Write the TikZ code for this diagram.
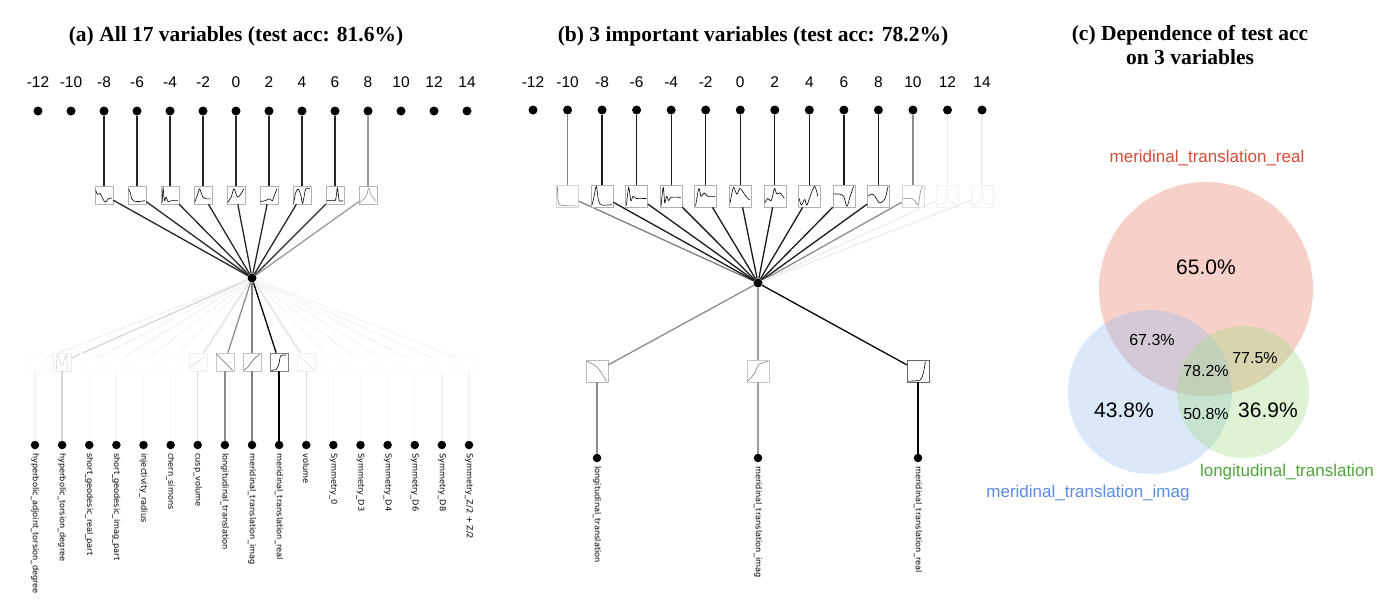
\documentclass[tikz,border=0pt]{standalone}
\usepackage{fontspec}
\setmainfont{Liberation Serif}
\newfontfamily\numfont{Liberation Sans}
\newfontfamily\varfont{DejaVu Sans}
\definecolor{vennred}{RGB}{232,120,100}
\definecolor{vennblue}{RGB}{150,188,242}
\definecolor{venngreen}{RGB}{160,220,130}
\definecolor{redtext}{RGB}{215,75,55}
\definecolor{bluetext}{RGB}{90,140,225}
\definecolor{greentext}{RGB}{80,165,60}
\usepackage{tikz}
\usetikzlibrary{positioning}
% little activation curve inside a box: node, box size, colour, points in the unit square
\newcommand{\spark}[4]{\draw[#3,line width=0.6pt,x=#2pt,y=#2pt,shift={(#1.south west)}]
  plot[smooth,tension=0.5] coordinates {#4};}

\begin{document}
\begin{tikzpicture}[x=1pt,y=-1pt,
  paneltitle/.style={font=\bfseries\fontsize{21.5}{24}\selectfont,align=center},
  numlabel/.style={font=\numfont\fontsize{15.5}{18}\selectfont},
  varlabel/.style={font=\varfont\fontsize{8.2}{10}\selectfont,rotate=-90,anchor=west,inner sep=0pt},
  dot/.style={circle,fill=black,inner sep=0pt,minimum size=9pt},
  smalldot/.style={circle,fill=black,inner sep=0pt,minimum size=8.5pt},
  hub/.style={circle,fill=black,inner sep=0pt,minimum size=9pt},
  sparkbox/.style={draw=black!30,fill=white,line width=0.5pt,inner sep=0pt,minimum size=#1},
  conn/.style={line width=1.3pt},
  vennset/.style={circle,inner sep=0pt,fill opacity=0.35,minimum size=#1},
  venntext/.style={font=\numfont\fontsize{17}{20}\selectfont},
  bigpct/.style={font=\numfont\fontsize{21}{24}\selectfont},
  smallpct/.style={font=\numfont\fontsize{16}{19}\selectfont}]
  \useasboundingbox (0,0) rectangle (1399,613);

  % (a) all 17 variables
  \node[paneltitle] (a-title) at (236,36) {(a) All 17 variables (test acc: 81.6\%)};
  \foreach \v [count=\i from 0] in {-12,-10,...,14} {
    \node[numlabel] (a-n\i) at (38+33*\i,82) {\v};
    \node[dot] (a-t\i) at (38+33*\i,111) {};
  }
  \node[hub] (a-hub) at (252,278) {};
  \foreach \i/\s in {2/85,3/85,4/85,5/85,6/85,7/85,8/85,9/85,10/40} {
    \node[sparkbox=18pt] (a-m\i) at (38+33*\i,195) {};
    \draw[black!\s,conn] (a-t\i) -- (a-m\i);
    \draw[black!\s,conn] (a-m\i) -- (a-hub);
  }
  \spark{a-m2}{18}{black}{(0.05,0.8) (0.15,0.55) (0.3,0.6) (0.45,0.3) (0.6,0.12) (0.75,0.3) (0.95,0.35)}
  \spark{a-m3}{18}{black}{(0.05,0.85) (0.15,0.6) (0.22,0.3) (0.35,0.18) (0.6,0.15) (0.95,0.2)}
  \spark{a-m4}{18}{black}{(0.08,0.1) (0.13,0.9) (0.2,0.2) (0.3,0.4) (0.4,0.15) (0.6,0.2) (0.95,0.2)}
  \spark{a-m5}{18}{black}{(0.05,0.1) (0.2,0.5) (0.33,0.85) (0.5,0.4) (0.7,0.3) (0.95,0.3)}
  \spark{a-m6}{18}{black}{(0.05,0.1) (0.25,0.4) (0.4,0.85) (0.6,0.4) (0.8,0.6) (0.95,0.85)}
  \spark{a-m7}{18}{black}{(0.05,0.15) (0.3,0.2) (0.55,0.3) (0.7,0.2) (0.85,0.6) (0.95,0.85)}
  \spark{a-m8}{18}{black}{(0.05,0.05) (0.15,0.6) (0.3,0.85) (0.45,0.5) (0.55,0.05) (0.7,0.8) (0.8,0.9) (0.95,0.85)}
  \spark{a-m9}{18}{black}{(0.05,0.2) (0.4,0.2) (0.55,0.25) (0.65,0.9) (0.75,0.2) (0.95,0.2)}
  \spark{a-m10}{18}{black!40}{(0.05,0.1) (0.3,0.3) (0.45,0.5) (0.55,0.9) (0.7,0.5) (0.95,0.2)}
  % (a) inputs
  \foreach \name/\s [count=\j from 0] in {hyperbolic\_adjoint\_torsion\_degree/5,
      hyperbolic\_torsion\_degree/16, short\_geodesic\_real\_part/4,
      short\_geodesic\_imag\_part/5, injectivity\_radius/4, chern\_simons/4,
      cusp\_volume/12, longitudinal\_translation/45, meridinal\_translation\_imag/50,
      meridinal\_translation\_real/100, volume/12, Symmetry\_0/4, Symmetry\_D3/4,
      Symmetry\_D4/4, Symmetry\_D6/4, Symmetry\_D8/4, {Symmetry\_Z/2 + Z/2}/4} {
    \pgfmathtruncatemacro\bs{max(2,0.5*\s)}
    \node[sparkbox=18pt,draw=black!\bs] (a-v\j) at (35+27.125*\j,362) {};
    \node[smalldot] (a-b\j) at (35+27.125*\j,445) {};
    \node[varlabel] (a-l\j) at (35+27.125*\j,453) {\name};
    \draw[black!\s,conn] (a-hub) -- (a-v\j);
    \draw[black!\s,conn] (a-v\j) -- (a-b\j);
  }
  \spark{a-v1}{18}{black!16}{(0.2,0.1) (0.25,0.9) (0.5,0.3) (0.75,0.9) (0.8,0.1)}
  \spark{a-v6}{18}{black!12}{(0.1,0.2) (0.5,0.5) (0.9,0.8)}
  \spark{a-v7}{18}{black!50}{(0.05,0.95) (0.5,0.5) (0.95,0.05)}
  \spark{a-v8}{18}{black!60}{(0.05,0.05) (0.3,0.25) (0.6,0.65) (0.95,0.95)}
  \spark{a-v9}{18}{black}{(0.05,0.05) (0.35,0.1) (0.5,0.4) (0.6,0.85) (0.9,0.9)}
  \spark{a-v10}{18}{black!12}{(0.1,0.9) (0.5,0.5) (0.9,0.1)}

  % (b) 3 important variables
  \node[paneltitle] (b-title) at (753,36) {(b) 3 important variables (test acc: 78.2\%)};
  \foreach \v [count=\i from 0] in {-12,-10,...,14} {
    \node[numlabel] (b-n\i) at (533+34.54*\i,82) {\v};
    \node[dot] (b-t\i) at (533+34.54*\i,110) {};
  }
  \node[hub] (b-hub) at (758,283) {};
  \foreach \i/\s in {1/50,2/90,3/90,4/90,5/90,6/90,7/90,8/90,9/90,10/90,11/45,12/7,13/7} {
    \pgfmathtruncatemacro\bs{max(5,0.35*\s)}
    \node[sparkbox=22pt,draw=black!\bs] (b-m\i) at (533+34.54*\i,196) {};
    \draw[black!\s,conn] (b-t\i) -- (b-m\i);
    \draw[black!\s,conn] (b-m\i) -- (b-hub);
  }
  \spark{b-m1}{22}{black!50}{(0.05,0.95) (0.1,0.2) (0.3,0.08) (0.95,0.06)}
  \spark{b-m2}{22}{black}{(0.05,0.1) (0.15,0.5) (0.25,0.95) (0.35,0.3) (0.5,0.1) (0.95,0.12)}
  \spark{b-m3}{22}{black}{(0.05,0.1) (0.15,0.9) (0.25,0.3) (0.35,0.5) (0.5,0.4) (0.95,0.4)}
  \spark{b-m4}{22}{black}{(0.05,0.05) (0.15,0.9) (0.22,0.2) (0.3,0.5) (0.4,0.3) (0.5,0.45) (0.95,0.45)}
  \spark{b-m5}{22}{black}{(0.05,0.05) (0.2,0.85) (0.3,0.5) (0.45,0.65) (0.6,0.5) (0.95,0.5)}
  \spark{b-m6}{22}{black}{(0.05,0.2) (0.2,0.9) (0.35,0.6) (0.5,0.85) (0.7,0.6) (0.85,0.4) (0.95,0.35)}
  \spark{b-m7}{22}{black}{(0.05,0.2) (0.2,0.4) (0.35,0.3) (0.5,0.85) (0.6,0.6) (0.75,0.65) (0.95,0.4)}
  \spark{b-m8}{22}{black}{(0.05,0.4) (0.15,0.1) (0.3,0.35) (0.4,0.1) (0.55,0.5) (0.75,0.95) (0.9,0.5)}
  \spark{b-m9}{22}{black}{(0.05,0.6) (0.3,0.6) (0.5,0.5) (0.65,0.05) (0.8,0.5) (0.95,0.95)}
  \spark{b-m10}{22}{black}{(0.05,0.5) (0.2,0.6) (0.35,0.5) (0.55,0.2) (0.75,0.3) (0.85,0.5) (0.95,0.95)}
  \spark{b-m11}{22}{black!45}{(0.05,0.4) (0.4,0.4) (0.6,0.3) (0.75,0.1) (0.85,0.7) (0.95,0.95)}
  \spark{b-m12}{22}{black!7}{(0.05,0.1) (0.4,0.3) (0.5,0.9) (0.6,0.3) (0.95,0.1)}
  \spark{b-m13}{22}{black!7}{(0.05,0.1) (0.4,0.3) (0.5,0.9) (0.6,0.3) (0.95,0.1)}
  % (b) inputs
  \foreach \name/\x/\s [count=\j] in {longitudinal\_translation/597/45,
      meridinal\_translation\_imag/758/38, meridinal\_translation\_real/918/100} {
    \pgfmathtruncatemacro\bs{max(20,0.6*\s)}
    \node[sparkbox=22pt,draw=black!\bs] (b-v\j) at (\x,371) {};
    \node[smalldot] (b-b\j) at (\x,458) {};
    \node[varlabel] (b-l\j) at (\x,466) {\name};
    \draw[black!\s,conn] (b-hub) -- (b-v\j);
    \draw[black!\s,conn] (b-v\j) -- (b-b\j);
  }
  \spark{b-v1}{22}{black!50}{(0.05,0.95) (0.5,0.7) (0.95,0.05)}
  \spark{b-v2}{22}{black!50}{(0.05,0.05) (0.35,0.4) (0.55,0.8) (0.95,0.95)}
  \spark{b-v3}{22}{black}{(0.05,0.05) (0.6,0.1) (0.75,0.4) (0.85,0.95)}

  % (c) Venn diagram
  \node[paneltitle] (c-title) at (1190,45) {(c) Dependence of test acc\\on 3 variables};
  \node[vennset=214pt,fill=vennred] (c-real) at (1206,289) {};
  \node[vennset=164pt,fill=vennblue] (c-imag) at (1150,392) {};
  \node[vennset=132pt,fill=venngreen] (c-long) at (1243,392) {};
  \node[venntext,text=redtext] (c-realname) at (1207,158) {meridinal\_translation\_real};
  \node[venntext,text=greentext] (c-longname) at (1287,472) {longitudinal\_translation};
  \node[venntext,text=bluetext] (c-imagname) at (1088,493) {meridinal\_translation\_imag};
  \node[bigpct] (c-p1) at (1206,267) {65.0\%};
  \node[smallpct] (c-p2) at (1152,340) {67.3\%};
  \node[smallpct] (c-p3) at (1255,358) {77.5\%};
  \node[smallpct] (c-p4) at (1206,371) {78.2\%};
  \node[bigpct] (c-p5) at (1124,410) {43.8\%};
  \node[smallpct] (c-p6) at (1206,414) {50.8\%};
  \node[bigpct] (c-p7) at (1268,410) {36.9\%};
\end{tikzpicture}
\end{document}
